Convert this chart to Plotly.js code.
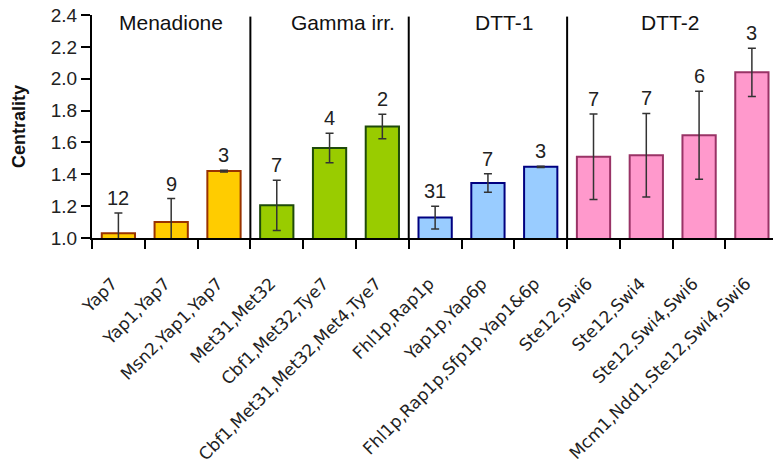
<!DOCTYPE html>
<html>
<head>
<meta charset="utf-8">
<script src="https://cdn.plot.ly/plotly-3.0.1.min.js"></script>
<style>html,body{margin:0;padding:0;background:#fff;}#chart{width:773px;height:470px;}</style>
</head>
<body>
<div id="chart"></div>
<script>
// ---- data ----
const categories = [
  "Yap7", "Yap1,Yap7", "Msn2,Yap1,Yap7",
  "Met31,Met32", "Cbf1,Met32,Tye7", "Cbf1,Met31,Met32,Met4,Tye7",
  "Fhl1p,Rap1p", "Yap1p,Yap6p", "Fhl1p,Rap1p,Sfp1p,Yap1&6p",
  "Ste12,Swi6", "Ste12,Swi4", "Ste12,Swi4,Swi6", "Mcm1,Ndd1,Ste12,Swi4,Swi6"
];
const centrality = [1.03, 1.10, 1.42, 1.205, 1.565, 1.70, 1.128, 1.345, 1.447, 1.51, 1.52, 1.645, 2.04];
const errors     = [0.127, 0.148, 0.006, 0.158, 0.093, 0.077, 0.072, 0.058, 0.004, 0.268, 0.262, 0.276, 0.151];
const counts     = [12, 9, 3, 7, 4, 2, 31, 7, 3, 7, 7, 6, 3];
const groupNames = ["Menadione", "Gamma irr.", "DTT-1", "DTT-2"];
const groupSizes = [3, 3, 3, 4];

// ---- styles ----
const groupFill = ["#FFCC00", "#99CC00", "#99CCFF", "#FF99CC"];
const groupLine = ["#993300", "#1E4A0A", "#000080", "#993366"];
const groupLabelX = [1.0, 4.25, 7.3, 10.45];

const fills = [], lines = [];
groupSizes.forEach((n, g) => { for (let i = 0; i < n; i++) { fills.push(groupFill[g]); lines.push(groupLine[g]); } });

const trace = {
  type: "bar",
  x: categories,
  y: centrality,
  width: 0.63,
  marker: { color: fills, line: { color: lines, width: 2 } },
  error_y: { type: "data", array: errors, visible: true, color: "#333333", thickness: 1.5, width: 4 },
  hoverinfo: "x+y"
};

const annotations = [];
categories.forEach((c, i) => {
  annotations.push({
    x: c, y: centrality[i] + errors[i], xref: "x", yref: "y",
    text: String(counts[i]), showarrow: false, yanchor: "bottom", yshift: 2,
    font: { family: "Liberation Sans, Arial, sans-serif", size: 20, color: "#222" }
  });
});
groupNames.forEach((g, k) => {
  annotations.push({
    x: groupLabelX[k], y: 0.965, xref: "x", yref: "paper",
    text: g, showarrow: false, yanchor: "middle", xanchor: "center",
    font: { family: "Liberation Sans, Arial, sans-serif", size: 21, color: "#111" }
  });
});

const shapes = [];
let cum = 0;
for (let g = 0; g < groupSizes.length - 1; g++) {
  cum += groupSizes[g];
  shapes.push({ type: "line", xref: "x", yref: "y", x0: cum - 0.5, x1: cum - 0.5, y0: 1.0, y1: 2.39,
    line: { color: "#000", width: 2 } });
}

const layout = {
  width: 773, height: 470,
  margin: { l: 92, r: 0, t: 15, b: 232 },
  paper_bgcolor: "#fff", plot_bgcolor: "#fff",
  showlegend: false,
  xaxis: {
    type: "category", range: [-0.5, 12.4], automargin: false,
    tickangle: -45, tickson: "boundaries", ticks: "outside", ticklen: 9, tickwidth: 2, tickcolor: "#000",
    ticklabelstandoff: 27, ticklabelshift: -6,
    showline: true, linecolor: "#000", linewidth: 2, showgrid: false, zeroline: false,
    tickfont: { family: "DejaVu Sans, Verdana, sans-serif", size: 17, color: "#222" }
  },
  yaxis: {
    range: [1.0, 2.4], dtick: 0.2, tickformat: ".1f", automargin: false,
    ticks: "outside", ticklen: 9, tickwidth: 2, tickcolor: "#000",
    showline: true, linecolor: "#000", linewidth: 2, showgrid: false, zeroline: false,
    tickfont: { family: "Liberation Sans, Arial, sans-serif", size: 19, color: "#222" },
    title: { text: "<b>Centrality</b>", standoff: 20,
      font: { family: "Liberation Sans, Arial, sans-serif", size: 18, color: "#111" } }
  },
  annotations: annotations,
  shapes: shapes
};

Plotly.newPlot("chart", [trace], layout, { staticPlot: true, displayModeBar: false });
</script>
</body>
</html>
